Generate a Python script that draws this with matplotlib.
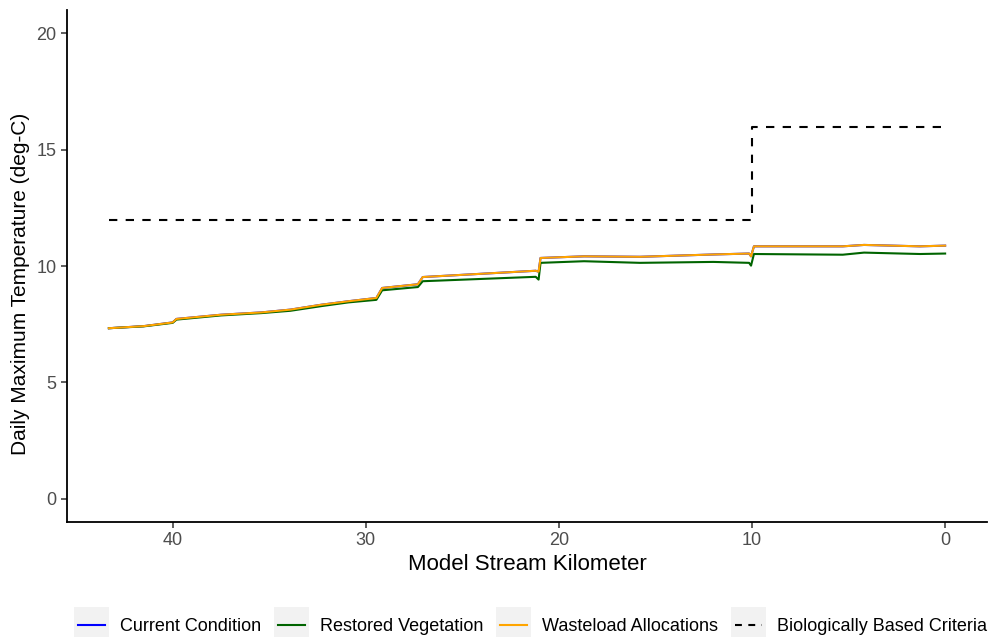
import matplotlib
matplotlib.use("Agg")
import matplotlib.pyplot as plt
from matplotlib.legend_handler import HandlerBase
from matplotlib.patches import Rectangle
from matplotlib.lines import Line2D

plt.rcParams['font.family'] = ['Liberation Sans', 'DejaVu Sans']

# model stream kilometer (upstream -> downstream)
km = [43.3, 41.5, 40.0, 39.8, 37.5, 35.4, 33.9, 32.3, 30.9, 29.45, 29.15,
      27.3, 27.05, 21.2, 21.05, 20.95, 18.7, 15.8, 12.0, 10.15, 10.05, 9.9,
      5.3, 4.2, 1.3, 0.0]

wasteload = [7.33, 7.42, 7.58, 7.73, 7.91, 8.01, 8.13, 8.34, 8.49, 8.63, 9.06,
             9.22, 9.53, 9.80, 9.76, 10.35, 10.42, 10.40, 10.50, 10.54, 10.42, 10.85,
             10.85, 10.91, 10.85, 10.88]
current = list(wasteload)
restored = [7.33, 7.41, 7.56, 7.70, 7.88, 7.98, 8.08, 8.28, 8.44, 8.55, 8.96,
            9.10, 9.35, 9.54, 9.42, 10.14, 10.21, 10.14, 10.18, 10.14, 10.02, 10.52,
            10.49, 10.58, 10.52, 10.54]

crit_km = [43.3, 10.0, 10.0, 0.0]
crit_val = [12, 12, 16, 16]

labels = ["Current Condition", "Restored Vegetation", "Wasteload Allocations",
          "Biologically Based Criteria"]
colors = ["blue", "darkgreen", "orange", "black"]


class KeyHandler(HandlerBase):
    # ggplot-like legend key: grey square behind the line
    def create_artists(self, legend, orig_handle, xdescent, ydescent,
                       width, height, fontsize, trans):
        yc = height / 2 - ydescent
        bg = Rectangle((-xdescent, yc - width / 2), width, width,
                       facecolor="#F2F2F2", edgecolor="none", transform=trans)
        ln = Line2D([-xdescent + 3, width - xdescent - 3], [yc, yc],
                    color=orig_handle.get_color(), lw=orig_handle.get_linewidth(),
                    transform=trans)
        if orig_handle.get_linestyle() != "-":
            ln.set_dashes((3.3, 3.1))
        return [bg, ln]


fig = plt.figure(figsize=(9.91, 6.37), dpi=100)
ax = fig.add_axes([0.0676, 0.1805, 0.9284, 0.8035])

h1, = ax.plot(km, current, color=colors[0], lw=1.5)
h2, = ax.plot(km, restored, color=colors[1], lw=1.5)
h3, = ax.plot(km, wasteload, color=colors[2], lw=1.5)
h4, = ax.plot(crit_km, crit_val, color=colors[3], lw=1.5, ls="--", dashes=(4, 4))

ax.set_xlim(45.47, -2.17)
ax.set_ylim(-1, 21)
ax.set_yticks([0, 5, 10, 15, 20])
ax.set_xticks([40, 30, 20, 10, 0])

for s in ["top", "right"]:
    ax.spines[s].set_visible(False)
for s in ["left", "bottom"]:
    ax.spines[s].set_linewidth(1.3)
ax.tick_params(axis="both", length=4, width=1.1, color="#333333",
               labelcolor="#4D4D4D", labelsize=13)

ax.set_xlabel("Model Stream Kilometer", fontsize=16, labelpad=3)
ax.set_ylabel("Daily Maximum Temperature (deg-C)", fontsize=15)
ax.yaxis.set_label_coords(-0.04, 0.465)

fig.legend([h1, h2, h3, h4], labels, loc="center", ncol=4,
           bbox_to_anchor=(0.535, 0.0165), frameon=False, fontsize=13,
           handler_map={Line2D: KeyHandler()}, handlelength=1.94,
           handleheight=0.7, handletextpad=0.6, columnspacing=0.72,
           borderpad=0)

fig.savefig("out.png", dpi=100)
